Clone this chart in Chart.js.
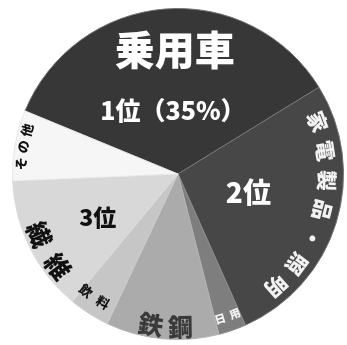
<!DOCTYPE html>
<html><head><meta charset="utf-8">
<script src="https://cdn.jsdelivr.net/npm/chart.js@4"></script>
<style>html,body{margin:0;padding:0;background:#fff}canvas{display:block}</style>
</head><body>
<canvas id="c" width="347" height="345"></canvas>
<script>
const categories = ['乗用車', '家電製品・照明', '日用', '鉄鋼', '飲料', '繊維', 'その他'];
const shares = [35, 27.1, 2.7, 11, 4, 13.3, 6.9];
const rankLabels = ['1位（35%）', '2位', '', '', '', '3位', ''];

const sliceColors = ['#373737', '#474747', '#7e7e7e', '#ababab', '#c6c6c6', '#d8d8d8', '#f6f6f6'];
const sliceBorders = ['#747474', '#747474', '#8c8c8c', '#b4b4b4', '#cbcbcb', '#dcdcdc', '#e6e6e6'];
const FONT = '"Noto Sans CJK JP", "Noto Sans", sans-serif';

// label styling: slice index, position within slice (t) and radius fraction
const nameStyles = [
  {slice: 0, flat: true, t: 0.525, r: 0.75, size: 40, color: '#fff'},
  {slice: 1, t0: 0.113, t1: 0.823, r: 0.9, size: 21, color: '#f2f2f2', orient: 'out'},
  {slice: 2, t0: 0.8, t1: 0.2, r: 0.91, size: 11, color: '#f4f4f4', orient: 'in'},
  {slice: 3, t0: 0.62, t1: 0.34, r: 0.925, size: 25, color: '#3a3a3a', orient: 'in'},
  {slice: 4, t0: 0.9, t1: 0.35, r: 0.9, size: 13, color: '#111', orient: 'in'},
  {slice: 5, t0: 0.56, t1: 0.267, r: 0.915, size: 25, color: '#111', orient: 'in'},
  {slice: 6, t0: 0.25, t1: 0.75, r: 0.95, size: 13, color: '#111', orient: 'out'}
];
const rankStyles = [
  {slice: 0, t: 0.5, r: 0.386, size: 25, color: '#fff'},
  {slice: 1, t: 0.477, r: 0.44, size: 28, color: '#fff'},
  {slice: 5, t: 0.46, r: 0.55, size: 23, color: '#111'}
];

const labelPlugin = {
  id: 'arcLabels',
  afterDatasetsDraw(chart) {
    const ctx = chart.ctx;
    const arcs = chart.getDatasetMeta(0).data;
    const posAt = (arc, t, rf) => {
      const a = arc.startAngle + (arc.endAngle - arc.startAngle) * t;
      const r = arc.outerRadius * rf;
      return {x: arc.x + Math.cos(a) * r, y: arc.y + Math.sin(a) * r, a};
    };
    ctx.save();
    ctx.textAlign = 'center';
    ctx.textBaseline = 'middle';
    nameStyles.forEach(s => {
      const arc = arcs[s.slice];
      const text = categories[s.slice];
      ctx.fillStyle = s.color;
      ctx.font = `900 ${s.size}px ${FONT}`;
      if (s.flat) {
        const p = posAt(arc, s.t, s.r);
        ctx.fillText(text, p.x, p.y);
        return;
      }
      const chars = Array.from(text);
      chars.forEach((ch, i) => {
        const t = chars.length === 1 ? s.t0 : s.t0 + (s.t1 - s.t0) * i / (chars.length - 1);
        const p = posAt(arc, t, s.r);
        ctx.save();
        ctx.translate(p.x, p.y);
        const rot = s.orient === 'out' ? p.a + Math.PI / 2 : p.a - Math.PI / 2;
        ctx.rotate(rot);
        ctx.fillText(ch, 0, 0);
        ctx.restore();
      });
    });
    rankStyles.forEach(s => {
      const arc = arcs[s.slice];
      const p = posAt(arc, s.t, s.r);
      ctx.fillStyle = s.color;
      ctx.font = `900 ${s.size}px ${FONT}`;
      ctx.fillText(rankLabels[s.slice], p.x, p.y);
    });
    ctx.restore();
  }
};

new Chart(document.getElementById('c'), {
  type: 'pie',
  data: {
    labels: categories,
    datasets: [{
      data: shares,
      backgroundColor: sliceColors,
      borderColor: sliceBorders,
      borderWidth: 1
    }]
  },
  options: {
    responsive: false,
    animation: false,
    rotation: -67.6,
    layout: {padding: {left: 12, right: 3, top: 8, bottom: 5}},
    plugins: {legend: {display: false}, tooltip: {enabled: false}}
  },
  plugins: [labelPlugin]
});
</script>
</body></html>
